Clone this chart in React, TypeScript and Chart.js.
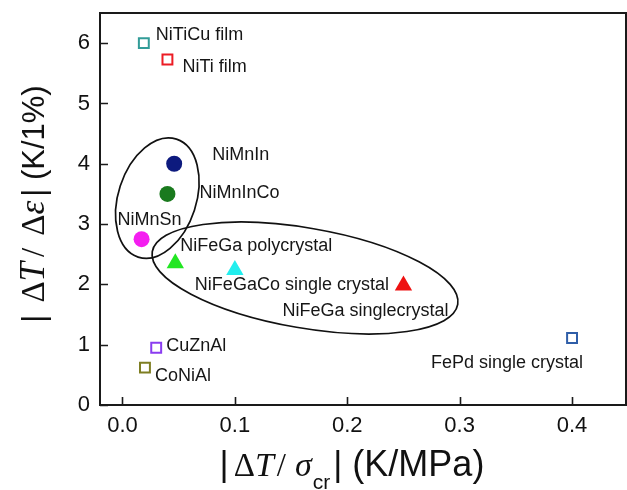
import React, { useEffect, useRef } from "react";
import { Chart, registerables } from "chart.js";

Chart.register(...registerables);

// ---- data ----
const materials = [
  "NiTiCu film",
  "NiTi film",
  "NiMnIn",
  "NiMnInCo",
  "NiMnSn",
  "NiFeGa polycrystal",
  "NiFeGaCo single crystal",
  "NiFeGa singlecrystal",
  "CuZnAl",
  "CoNiAl",
  "FePd single crystal",
];
const stressSlope = [0.019, 0.04, 0.046, 0.04, 0.017, 0.047, 0.1, 0.25, 0.03, 0.02, 0.4];
const strainSlope = [6.0, 5.73, 4.0, 3.5, 2.75, 2.35, 2.24, 1.98, 0.95, 0.62, 1.11];
const xTicks = [0, 0.1, 0.2, 0.3, 0.4];
const yTicks = [0, 1, 2, 3, 4, 5, 6];

// ---- styles ----
const markerColors = [
  "#329c98",
  "#ec1c24",
  "#0d1a7e",
  "#1a7a1e",
  "#f41ef0",
  "#22e622",
  "#22eeee",
  "#ee1111",
  "#8a3cf0",
  "#7e7e22",
  "#2f5ea8",
];
const markerShapes = ["rect", "rect", "circle", "circle", "circle", "triangle", "triangle", "triangle", "rect", "rect", "rect"];
// label offsets (px) from marker centre: [dx to text start, dy to text middle]
const labelOffsets: [number, number][] = [
  [12, -8],
  [15, 8],
  [38, -9],
  [32, -1],
  [-24, -19],
  [5, -17],
  [-40, 15],
  [-121, 25],
  [10, -2],
  [10, 8],
  [-141, 25],
];
// ellipses: centre in data coordinates, radii in px, rotation in degrees
const ellipses = [
  { cx: 0.031, cy: 3.43, rx: 62, ry: 39, rot: -72 },
  { cx: 0.1624, cy: 2.106, rx: 155, ry: 50, rot: 9.8 },
];

const SANS = "'Liberation Sans', Arial, sans-serif";
const SERIF = "'Liberation Serif', 'Times New Roman', serif";

type Seg = { t: string; font: string; dy?: number; gap?: number };

const xTitle: Seg[] = [
  { t: "|", font: `35px ${SANS}`, gap: 5 },
  { t: "Δ", font: `33px ${SERIF}` },
  { t: "T", font: `italic 34px ${SERIF}`, gap: 3 },
  { t: "/", font: `33px ${SERIF}`, gap: 9 },
  { t: "σ", font: `italic 34px ${SERIF}`, gap: 1 },
  { t: "cr", font: `21px ${SANS}`, dy: 13, gap: 3 },
  { t: "|", font: `35px ${SANS}` },
  { t: " (K/MPa)", font: `36px ${SANS}` },
];
const yTitle: Seg[] = [
  { t: "|", font: `31px ${SANS}`, gap: 12 },
  { t: "Δ", font: `33px ${SERIF}` },
  { t: "T", font: `italic 35px ${SERIF}`, gap: 5 },
  { t: "/", font: `33px ${SERIF}`, gap: 12 },
  { t: "Δ", font: `33px ${SERIF}` },
  { t: "ε", font: `italic 35px ${SERIF}`, gap: 4 },
  { t: "|", font: `31px ${SANS}` },
  { t: " (K/1%)", font: `31px ${SANS}` },
];

function drawSegs(ctx: CanvasRenderingContext2D, segs: Seg[], cx: number, baseY: number) {
  const widths = segs.map((s) => {
    ctx.font = s.font;
    return ctx.measureText(s.t).width + (s.gap || 0);
  });
  const total = widths.reduce((a, b) => a + b, 0);
  let x = cx - total / 2;
  ctx.textAlign = "left";
  ctx.textBaseline = "alphabetic";
  segs.forEach((s, i) => {
    ctx.font = s.font;
    ctx.fillText(s.t, x, baseY + (s.dy || 0));
    x += widths[i];
  });
}

const overlayPlugin = {
  id: "overlay",
  beforeDatasetsDraw(chart: any) {
    const ctx: CanvasRenderingContext2D = chart.ctx;
    const xs = chart.scales.x;
    const ys = chart.scales.y;
    ctx.save();
    ctx.strokeStyle = "#111";
    ctx.lineWidth = 1.7;
    ellipses.forEach((e) => {
      ctx.beginPath();
      ctx.ellipse(xs.getPixelForValue(e.cx), ys.getPixelForValue(e.cy), e.rx, e.ry, (e.rot * Math.PI) / 180, 0, Math.PI * 2);
      ctx.stroke();
    });
    ctx.restore();
  },
  afterDraw(chart: any) {
    const ctx: CanvasRenderingContext2D = chart.ctx;
    const a = chart.chartArea;
    const xs = chart.scales.x;
    const ys = chart.scales.y;
    ctx.save();
    // frame
    ctx.strokeStyle = "#1a1a1a";
    ctx.lineWidth = 2;
    ctx.strokeRect(a.left, a.top, a.right - a.left, a.bottom - a.top);
    // inward ticks
    ctx.lineWidth = 1.6;
    ctx.beginPath();
    xs.ticks.forEach((t: any) => {
      const px = Math.round(xs.getPixelForValue(t.value)) + 0.5;
      ctx.moveTo(px, a.bottom);
      ctx.lineTo(px, a.bottom - 8);
    });
    ys.ticks.forEach((t: any) => {
      const py = Math.round(ys.getPixelForValue(t.value)) + 0.5;
      ctx.moveTo(a.left, py);
      ctx.lineTo(a.left + 8, py);
    });
    ctx.stroke();
    // point labels
    ctx.fillStyle = "#161616";
    ctx.font = `18px ${SANS}`;
    ctx.textAlign = "left";
    ctx.textBaseline = "middle";
    materials.forEach((name, i) => {
      const px = xs.getPixelForValue(stressSlope[i]);
      const py = ys.getPixelForValue(strainSlope[i]);
      ctx.fillText(name, px + labelOffsets[i][0], py + labelOffsets[i][1]);
    });
    // axis titles
    ctx.fillStyle = "#111";
    drawSegs(ctx, xTitle, (a.left + a.right) / 2 - 11, 476);
    ctx.save();
    ctx.translate(44, (a.top + a.bottom) / 2 - 5);
    ctx.rotate(-Math.PI / 2);
    drawSegs(ctx, yTitle, 0, 0);
    ctx.restore();
    ctx.restore();
  },
};

function zeroPadding(s: any) {
  s.paddingTop = 0;
  s.paddingBottom = 0;
  s.paddingLeft = 0;
  s.paddingRight = 0;
}

export default function App() {
  const canvasRef = useRef<HTMLCanvasElement | null>(null);

  useEffect(() => {
    if (!canvasRef.current) return;
    const chart = new Chart(canvasRef.current, {
      type: "scatter",
      data: {
        datasets: [
          {
            data: stressSlope.map((x, i) => ({ x, y: strainSlope[i] })),
            pointStyle: markerShapes as any,
            pointRadius: markerShapes.map((s) => (s === "rect" ? 7 : s === "circle" ? 8 : 10)),
            pointBackgroundColor: markerShapes.map((s, i) => (s === "rect" ? "#ffffff" : markerColors[i])),
            pointBorderColor: markerColors,
            pointBorderWidth: markerShapes.map((s) => (s === "rect" ? 2 : 0)),
            showLine: false,
          },
        ],
      },
      options: {
        animation: false,
        responsive: false,
        layout: { autoPadding: false, padding: { top: 13, right: 1, left: 0, bottom: 0 } },
        plugins: { legend: { display: false }, tooltip: { enabled: false } },
        scales: {
          x: {
            type: "linear",
            min: -0.02,
            max: 0.448,
            grid: { display: false, drawTicks: false },
            border: { display: false },
            ticks: {
              font: { family: SANS, size: 22 },
              color: "#111",
              padding: 8,
              callback: (v: any) => Number(v).toFixed(1),
            },
            afterBuildTicks: (s: any) => {
              s.ticks = xTicks.map((v) => ({ value: v }));
            },
            afterFit: (s: any) => {
              s.height = 85;
              zeroPadding(s);
            },
          },
          y: {
            type: "linear",
            min: 0,
            max: 6.5,
            grid: { display: false, drawTicks: false },
            border: { display: false },
            ticks: {
              font: { family: SANS, size: 22 },
              color: "#111",
              padding: 10,
              callback: (v: any) => String(v),
            },
            afterBuildTicks: (s: any) => {
              s.ticks = yTicks.map((v) => ({ value: v }));
            },
            afterFit: (s: any) => {
              s.width = 100;
              zeroPadding(s);
            },
          },
        },
      },
      plugins: [overlayPlugin],
    });
    return () => chart.destroy();
  }, []);

  return (
    <div style={{ position: "absolute", left: 0, top: 0, width: 627, height: 490, background: "#fff" }}>
      <canvas ref={canvasRef} width={627} height={490} style={{ display: "block" }} />
    </div>
  );
}
